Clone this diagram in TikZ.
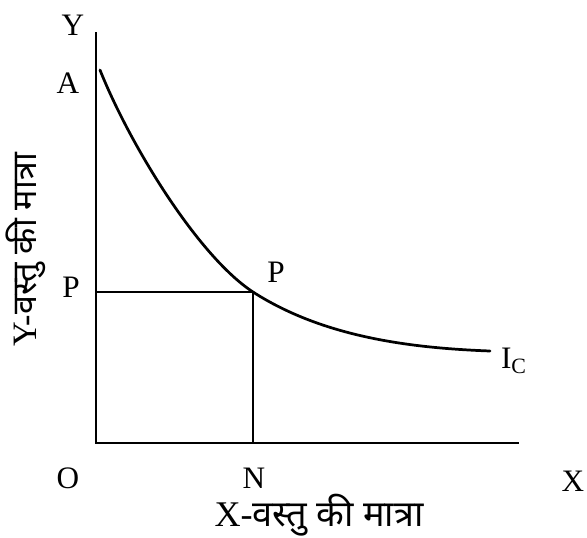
\documentclass[tikz,border=0pt]{standalone}
\usepackage{fontspec}
\setmainfont{Liberation Serif}
\newfontfamily\hindi[Script=Devanagari]{Noto Sans}
\usetikzlibrary{positioning, calc}
\tikzset{
    axis/.style={line width=1.4pt},
    guide/.style={line width=1.3pt},
    curve/.style={line width=1.4pt, line cap=round},
    lbl/.style={font=\fontsize{16}{19}\selectfont, inner sep=0pt},
    axlbl/.style={font=\fontsize{18.5}{22}\selectfont, inner sep=0pt}
}

\begin{document}
\begin{tikzpicture}[x=0.018cm, y=-0.018cm]
        \useasboundingbox (0,0) rectangle (587,538);

        % Points
        \coordinate (o) at (96,443);
        \coordinate (ytop) at (96,32);
        \coordinate (xend) at (519,443);
        \coordinate (a) at (100,70);
        \coordinate (p) at (253,292);
        \coordinate (n) at (253,443);
        \coordinate (pyax) at (96,292);
        \coordinate (icend) at (490,351);

        % Axes
        \draw[axis] (ytop) -- (o) -- (xend);

        % Indifference curve
        \draw[curve] (a) .. controls (130,145) and (198,256) .. (p)
                         .. controls (323,337) and (410,348) .. (icend);

        % Guide lines
        \draw[guide] (pyax) -- (p) -- (n);

        % Labels
        \node (ylbl) [lbl] at (73,25) {Y};
        \node (albl) [lbl] at (68,83) {A};
        \node (pleft) [lbl] at (71,287) {P};
        \node (pright) [lbl] at (276,272) {P};
        \node (olbl) [lbl] at (68,478) {O};
        \node (nlbl) [lbl] at (254,478) {N};
        \node (xlbl) [lbl] at (573,481) {X};
        \node (iclbl) [lbl] at (514,361) {I\textsubscript{C}};

        % Axis titles
        \node (xtitle) [axlbl] at (319,515) {X-{\hindi वस्तु की मात्रा}};
        \node (ytitle) [axlbl, rotate=90, font=\fontsize{17.5}{21}\selectfont] at (26,250) {Y-{\hindi वस्तु की मात्रा}};
    \end{tikzpicture}
\end{document}
